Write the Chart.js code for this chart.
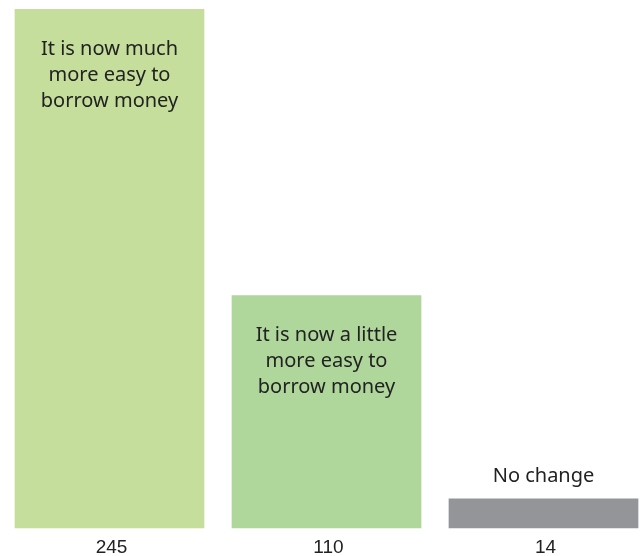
<!DOCTYPE html>
<html>
<head>
<meta charset="utf-8">
<script src="https://cdn.jsdelivr.net/npm/chart.js@4.4.0/dist/chart.umd.min.js"></script>
<style>
  html, body { margin: 0; padding: 0; background: #fff; }
  #wrap { width: 640px; height: 556px; }
</style>
</head>
<body>
<div id="wrap"><canvas id="myChart" width="640" height="556"></canvas></div>
<script>
"use strict";

const categories = [
    ['It is now much', 'more easy to', 'borrow money'],
    ['It is now a little', 'more easy to', 'borrow money'],
    ['No change']
];
const counts = [245, 110, 14];
const barColors = ['#c5de9b', '#afd69b', '#939598'];

// answer text inside each bar (above it when the bar is short) and the count under it
const barText = {
    id: 'barText',
    afterDatasetsDraw(chart) {
        const ctx = chart.ctx;
        const meta = chart.getDatasetMeta(0);
        ctx.save();
        ctx.fillStyle = '#222222';
        ctx.textAlign = 'center';
        ctx.textBaseline = 'middle';
        meta.data.forEach(function (bar, i) {
            const lines = categories[i];
            const h = bar.base - bar.y;
            let y;
            if (h > 100) {
                y = bar.y + 40;
            } else {
                y = bar.y - 22 - (lines.length - 1) * 26;
            }
            ctx.font = '20px "Noto Sans"';
            for (let j = 0; j < lines.length; j++) {
                ctx.fillText(lines[j], bar.x, y + j * 26);
            }
            ctx.font = '19px "Liberation Sans"';
            ctx.fillText(String(counts[i]), bar.x + 2, bar.base + 19);
        });
        ctx.restore();
    }
};

const ctx = document.getElementById('myChart').getContext('2d');
const myChart = new Chart(ctx, {
    type: 'bar',
    data: {
        labels: categories,
        datasets: [{
            data: counts,
            backgroundColor: barColors,
            borderWidth: 0,
            clip: false
        }]
    },
    options: {
        responsive: false,
        animation: false,
        categoryPercentage: 0.94,
        barPercentage: 0.93,
        layout: {
            padding: { left: 109.5, right: 96.5, top: 9, bottom: 33 }
        },
        plugins: {
            legend: { display: false },
            tooltip: { enabled: false }
        },
        scales: {
            x: {
                display: false,
                offset: false
            },
            y: {
                display: false,
                min: 2.5,
                max: 245
            }
        }
    },
    plugins: [barText]
});
</script>
</body>
</html>
